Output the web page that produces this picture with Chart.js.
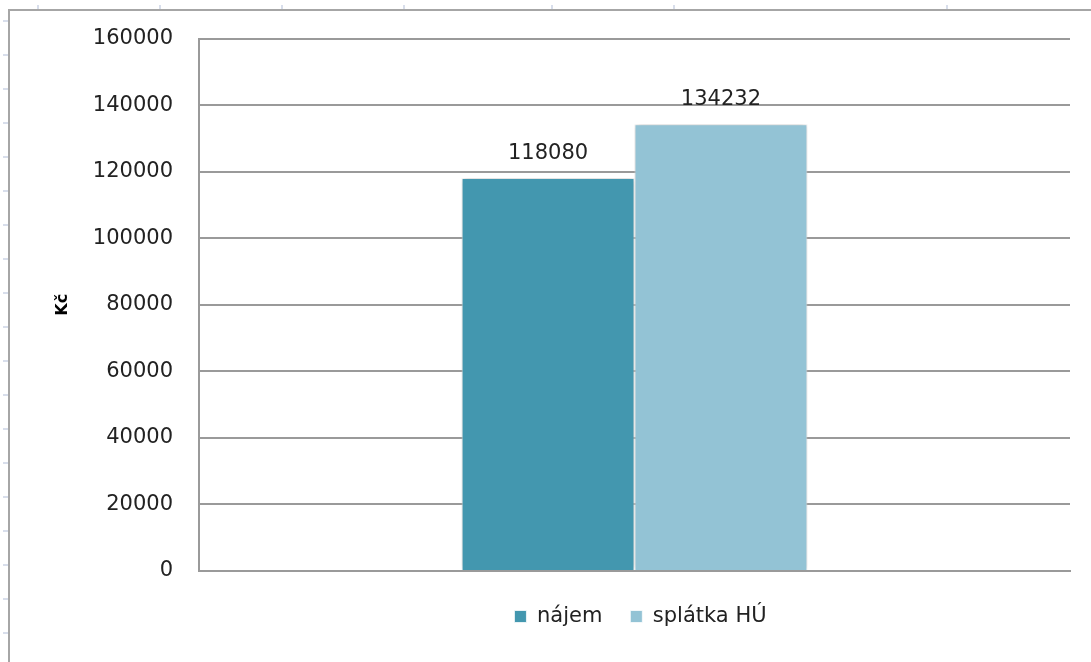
<!DOCTYPE html>
<html><head><meta charset="utf-8">
<script src="https://cdn.jsdelivr.net/npm/chart.js@4/dist/chart.umd.min.js"></script>
<style>
html,body{margin:0;padding:0;background:#fff;}
#wrap{position:relative;width:1091px;height:662px;overflow:hidden;}
#frame{position:absolute;left:8px;top:9px;width:1100px;height:700px;border-top:2px solid #a6a6a6;border-left:2px solid #a6a6a6;}
.tk{position:absolute;background:#d8deeb;}
#c{position:absolute;left:0;top:0;}
</style></head>
<body><div id="wrap"><div id="frame"></div><canvas id="c" width="1091" height="662"></canvas></div>
<script>
const categories = [""];
const seriesNames = ["nájem", "splátka HÚ"];
const najem = [118080];
const splatka = [134232];
const yTicks = [0, 20000, 40000, 60000, 80000, 100000, 120000, 140000, 160000];
const axisTitle = "Kč";

// spreadsheet edge marks (decoration)
const wrap = document.getElementById('wrap');
[37,159,281,403,551,673,946].forEach(x => { const d=document.createElement('div'); d.className='tk'; d.style.cssText=`left:${x}px;top:5px;width:2px;height:4px`; wrap.appendChild(d); });
for (let y = 20; y < 662; y += 34) { const d=document.createElement('div'); d.className='tk'; d.style.cssText=`left:3px;top:${y}px;width:5px;height:2px`; wrap.appendChild(d); }

Chart.defaults.font.family = "'DejaVu Sans', Verdana, sans-serif";
Chart.defaults.color = "#222";

const labelPlugin = {
  id: 'vals',
  afterDatasetsDraw(chart) {
    const ctx = chart.ctx;
    ctx.save();
    ctx.font = "21px 'DejaVu Sans'";
    ctx.fillStyle = "#222";
    ctx.textAlign = "center";
    ctx.textBaseline = "bottom";
    chart.data.datasets.forEach((ds, i) => {
      chart.getDatasetMeta(i).data.forEach((el, j) => {
        ctx.fillText(String(ds.data[j]), el.x, el.y - 14);
      });
    });
    ctx.restore();
  }
};
const shadowPlugin = {
  id: 'shadow',
  beforeDatasetsDraw(chart) { chart.ctx.save(); chart.ctx.shadowColor = 'rgba(0,0,0,0.25)'; chart.ctx.shadowBlur = 6; },
  afterDatasetsDraw(chart) { chart.ctx.restore(); }
};
const legendShift = {
  id: 'legendShift',
  afterLayout(chart) {
    const lg = chart.legend;
    if (lg) { lg.left = chart.chartArea.left + 12; lg.right = chart.chartArea.right; }
  }
};

new Chart(document.getElementById('c'), {
  type: 'bar',
  data: {
    labels: categories,
    datasets: [
      { label: seriesNames[0], data: najem, backgroundColor: '#4397AF', borderColor: '#ffffff', borderWidth: {left:1,right:1,top:1,bottom:0}, borderSkipped: 'bottom' },
      { label: seriesNames[1], data: splatka, backgroundColor: '#93C3D5', borderColor: '#ffffff', borderWidth: {left:1,right:1,top:1,bottom:0}, borderSkipped: 'bottom' }
    ]
  },
  options: {
    responsive: false,
    animation: false,
    devicePixelRatio: 1,
    layout: { padding: { left: 10, right: 21, top: 38, bottom: 25 } },
    plugins: {
      tooltip: { enabled: false },
      legend: {
        position: 'bottom',
        labels: { boxWidth: 12, boxHeight: 12, padding: 28, font: { size: 21 }, color: '#222' }
      }
    },
    datasets: { bar: { barPercentage: 1, categoryPercentage: 0.397 } },
    scales: {
      x: {
        ticks: { display: false },
        grid: { display: false, drawTicks: false },
        border: { color: '#9a9a9a', width: 2 },
        afterFit(s) { s.height = 7; }
      },
      y: {
        min: 0, max: 160000,
        afterBuildTicks(s) { s.ticks = yTicks.map(v => ({ value: v })); },
        afterFit(s) { s.width = 189; },
        ticks: { padding: 26, font: { size: 21 }, color: '#222', callback: v => String(v) },
        grid: { color: '#9a9a9a', lineWidth: 2, drawTicks: false },
        border: { color: '#9a9a9a', width: 2 },
        title: { display: true, text: axisTitle, font: { size: 16, weight: 'bold' }, color: '#000', padding: { top: 43, bottom: 0 } }
      }
    }
  },
  plugins: [shadowPlugin, labelPlugin, legendShift]
});
</script></body></html>
